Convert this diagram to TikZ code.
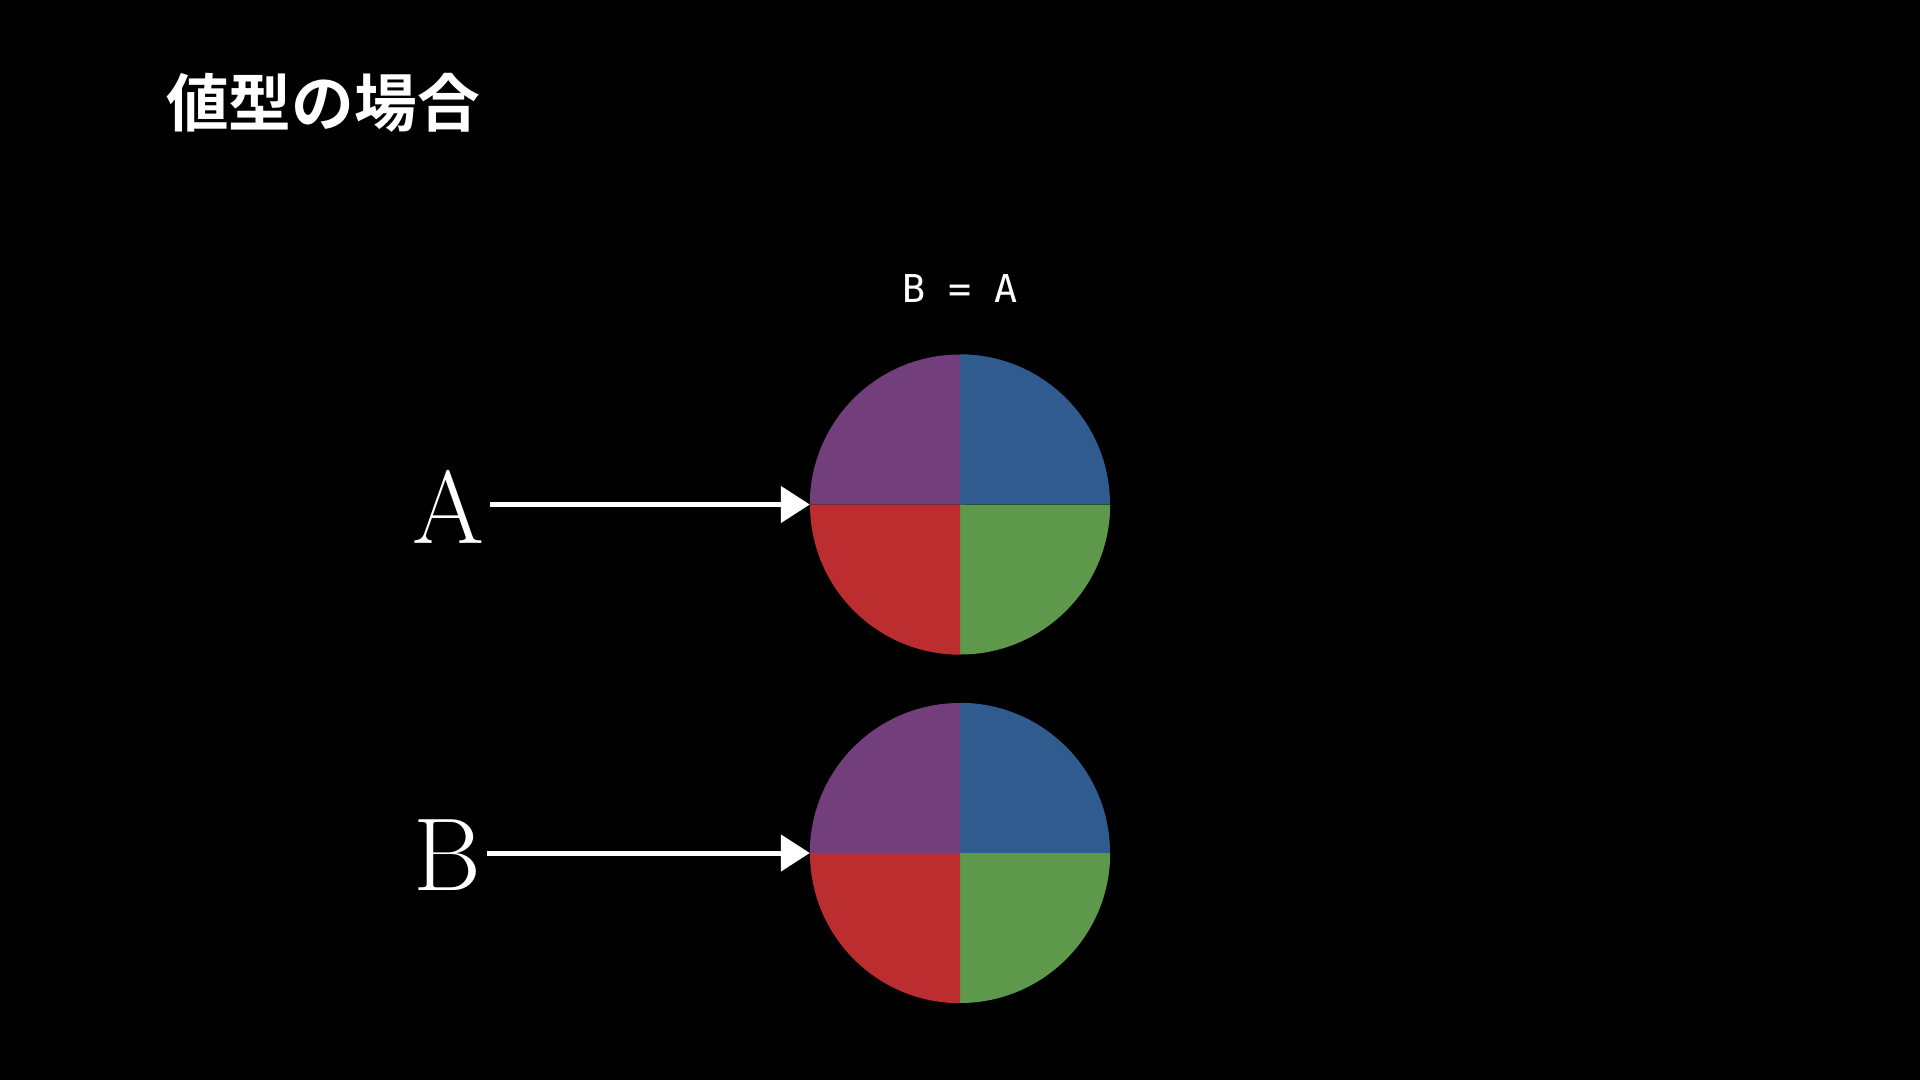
\documentclass[tikz,border=0pt]{standalone}
\usepackage{fontspec}
\newfontfamily\cjkbold{Noto Sans CJK JP}[BoldFont={* Bold}]
\newfontfamily\monofont{DejaVu Sans Mono}
\usetikzlibrary{arrows.meta}
\definecolor{qpurple}{HTML}{723E7C}
\definecolor{qblue}{HTML}{2F5B8E}
\definecolor{qred}{HTML}{BC2D2F}
\definecolor{qgreen}{HTML}{5E984A}
\tikzset{
  lbl/.style={text=white, inner sep=0pt, font=\fontsize{104}{110}\selectfont},
  disk/.style={circle, minimum size=300bp, inner sep=0pt},
  chalk/.style={draw=white, line width=5bp, -{Triangle[length=29bp,width=36bp]}, shorten <=6bp}
}
\newcommand{\quartdisk}[1]{%
  \fill[qpurple] (#1.center) -- (#1.west) arc[start angle=180,end angle=90,radius=150bp] -- cycle;
  \fill[qblue] (#1.center) -- (#1.north) arc[start angle=90,end angle=0,radius=150bp] -- cycle;
  \fill[qgreen] (#1.center) -- (#1.east) arc[start angle=0,end angle=-90,radius=150bp] -- cycle;
  \fill[qred] (#1.center) -- (#1.south) arc[start angle=-90,end angle=-180,radius=150bp] -- cycle;
}
\begin{document}
\begin{tikzpicture}[x=1bp,y=-1bp]
\fill[black] (0,0) rectangle (1920,1080);
\useasboundingbox (0,0) rectangle (1920,1080);
\node[anchor=west, text=white, inner sep=0pt, font=\cjkbold\bfseries\fontsize{63}{70}\selectfont] (title) at (166,103) {値型の場合};
\node[text=white, inner sep=0pt, font=\monofont\fontsize{38.5}{40}\selectfont] (eq) at (960,289) {B = A};
\node[disk] (cA) at (960,504.5) {};
\node[disk] (cB) at (960,853) {};
\quartdisk{cA}
\quartdisk{cB}
\node[lbl] (lA) at (448,507) {A};
\node[lbl] (lB) at (447,855) {B};
\draw[chalk] (lA.east |- cA.west) -- (cA.west);
\draw[chalk] (lB.east |- cB.west) -- (cB.west);
\end{tikzpicture}
\end{document}
